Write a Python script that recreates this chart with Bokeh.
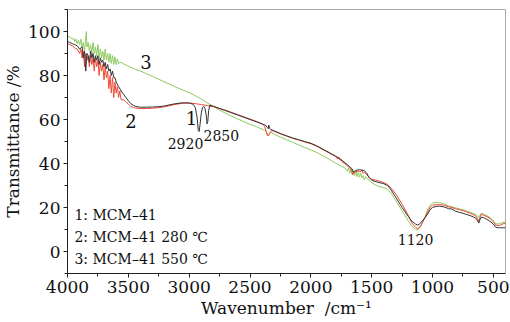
from bokeh.plotting import figure
from bokeh.models import Range1d, FixedTicker
from bokeh.core.properties import value
from bokeh.embed import file_html
from bokeh.resources import INLINE

# ---------------- data ----------------
wn1 = [4000, 3980, 3960, 3940, 3920, 3900, 3880, 3870, 3860, 3850, 3840, 3830, 3820, 3810, 3800,
       3790, 3780, 3770, 3760, 3750, 3740, 3730, 3720, 3710, 3700, 3690, 3680, 3670, 3660, 3650,
       3640, 3630, 3620, 3610, 3600, 3580, 3560, 3540, 3520, 3500, 3480, 3460, 3440, 3420, 3400,
       3350, 3300, 3250, 3200, 3150, 3100, 3050, 3000, 2970, 2950, 2935, 2925, 2918, 2910, 2900,
       2890, 2880, 2870, 2860, 2853, 2847, 2840, 2830, 2800, 2750, 2700, 2650, 2600, 2550, 2500,
       2450, 2400, 2370, 2360, 2350, 2345, 2340, 2330, 2300, 2250, 2200, 2150, 2100, 2050, 2000,
       1950, 1900, 1850, 1800, 1750, 1700, 1680, 1660, 1650, 1640, 1620, 1600, 1580, 1560, 1540,
       1520, 1500, 1480, 1450, 1400, 1370, 1340, 1300, 1250, 1200, 1170, 1140, 1120, 1100, 1080,
       1060, 1040, 1020, 1000, 970, 940, 900, 870, 840, 810, 780, 750, 720, 690, 660, 640, 630,
       620, 610, 600, 580, 560, 530, 500, 480, 460, 440, 420, 400]
t1 = [95.5, 95, 94.5, 94, 93.5, 92, 93, 88, 91, 82, 90, 89, 86, 91, 88,
      90, 86, 89, 87, 89, 85, 88, 86, 87, 84, 86, 83, 85, 82, 83,
      80, 82, 79, 79, 77, 75, 73, 71.5, 70, 68.5, 67.2, 66.5, 66, 65.7, 65.6,
      65.6, 65.7, 65.8, 66.2, 66.8, 67.3, 67.6, 67.5, 67, 65.5, 61, 55, 54.5, 58, 63,
      65.5, 66, 65, 62, 58, 59, 64, 66.5, 66, 65, 64, 63, 62, 61, 60,
      59, 58, 57.3, 56.5, 55.8, 57.5, 56, 55.5, 54.8, 53.6, 52.6, 51.6, 50.8, 50, 49.2,
      48, 46.5, 45, 43.5, 41.7, 39.5, 38.5, 37.5, 36, 36.5, 37, 37.2, 37, 36.8, 35.5,
      33.5, 32.5, 32, 31.5, 30.8, 30, 28, 24.5, 20, 16, 13.8, 12.5, 12, 12.8, 14.2,
      15.5, 17, 19, 20, 20.5, 20.6, 20.2, 19.5, 19.3, 18.3, 17.8, 17.4, 16.8, 16.3, 15.6, 15, 14,
      12.9, 14.5, 15.6, 15.4, 14.8, 13.8, 12.5, 11, 10.8, 10.8, 10.8, 10.8]

wn2 = [4000, 3980, 3960, 3940, 3920, 3900, 3890, 3880, 3870, 3860, 3850, 3840, 3830, 3820, 3810,
       3800, 3790, 3780, 3770, 3760, 3750, 3740, 3730, 3720, 3710, 3700, 3690, 3680, 3670, 3660,
       3650, 3640, 3630, 3620, 3610, 3600, 3590, 3580, 3570, 3560, 3540, 3520, 3500, 3480, 3460,
       3440, 3400, 3350, 3300, 3250, 3200, 3150, 3100, 3050, 3000, 2950, 2900, 2850, 2800, 2750,
       2700, 2650, 2600, 2550, 2500, 2450, 2400, 2380, 2370, 2360, 2350, 2340, 2330, 2320, 2300,
       2250, 2200, 2150, 2100, 2050, 2000, 1950, 1900, 1850, 1800, 1780, 1770, 1760, 1750, 1740,
       1720, 1700, 1680, 1665, 1655, 1645, 1630, 1610, 1590, 1580, 1570, 1560, 1540, 1520, 1500,
       1470, 1440, 1400, 1370, 1340, 1300, 1250, 1200, 1170, 1140, 1120, 1100, 1080, 1060, 1040,
       1020, 1000, 970, 940, 900, 870, 840, 810, 780, 750, 720, 690, 660, 640, 630, 620, 610,
       600, 580, 560, 530, 500, 480, 460, 440, 420, 400]
t2 = [94.5, 94, 93.5, 92.5, 92, 90, 92, 88, 91, 84, 90, 87, 89, 84, 89,
      85, 88, 82, 88, 84, 87, 80, 86, 82, 85, 78, 84, 79, 82, 74,
      80, 72, 79, 70, 77, 72, 75, 70, 73, 69, 69, 68, 67, 66, 65.5,
      65.2, 65, 65, 65.1, 65.4, 65.8, 66.4, 67, 67.4, 67.5, 67.2, 66.8, 66.3, 65.8, 65,
      64.2, 63.2, 62.2, 61.2, 60.2, 59.2, 58, 57, 55, 53, 52.6, 53.5, 54.5, 55, 54.6,
      53.5, 52.5, 51.5, 50.7, 49.8, 49, 47.8, 46.3, 44.8, 43.3, 42, 43, 41.5, 41.8, 40.5,
      40, 39, 38, 36.8, 35, 35.8, 36.3, 36.6, 36.2, 37, 35.5, 36, 35, 33.5, 32.8,
      32.5, 32, 31.3, 30.5, 28.8, 26, 21.5, 16.5, 13, 11, 10.4, 11.5, 13.5, 15.5, 18,
      20, 21, 21.3, 21.3, 21, 20.3, 20, 19.4, 19, 18.6, 18, 17.4, 16.6, 16, 15, 13.5, 15.5,
      16.8, 16.5, 16, 15.2, 13.5, 12, 11.8, 12, 12.6, 12.8]

wn3 = [4000, 3980, 3960, 3950, 3940, 3930, 3920, 3910, 3900, 3890, 3880, 3870, 3860, 3850, 3845,
       3840, 3830, 3820, 3810, 3800, 3790, 3780, 3770, 3760, 3750, 3740, 3730, 3720, 3710, 3700,
       3690, 3680, 3670, 3660, 3650, 3640, 3630, 3620, 3610, 3600, 3590, 3580, 3560, 3540, 3500,
       3450, 3400, 3350, 3300, 3250, 3200, 3150, 3100, 3050, 3000, 2950, 2900, 2850, 2800, 2750,
       2700, 2650, 2600, 2550, 2500, 2450, 2400, 2370, 2360, 2350, 2340, 2330, 2300, 2250, 2200,
       2150, 2100, 2050, 2000, 1950, 1900, 1850, 1800, 1750, 1720, 1700, 1690, 1680, 1670, 1660,
       1650, 1640, 1630, 1620, 1610, 1600, 1590, 1580, 1570, 1560, 1550, 1540, 1520, 1500, 1470,
       1440, 1400, 1370, 1340, 1300, 1250, 1200, 1170, 1140, 1120, 1100, 1080, 1060, 1040, 1020,
       1000, 970, 940, 900, 870, 840, 810, 780, 750, 720, 690, 660, 640, 630, 620, 610, 600,
       580, 560, 530, 500, 480, 460, 440, 420, 400]
t3 = [98, 97.5, 96.5, 97, 95.5, 96.5, 94.5, 96, 94, 96.5, 93, 95, 91, 97, 100,
      93, 95, 91, 94, 90, 95, 90, 93, 89, 94, 88, 92, 88, 91, 87,
      92, 87, 90, 86, 90, 85.5, 89, 85, 88.5, 85, 87.5, 85.5, 86, 85.3, 84.3,
      83, 82, 80.8, 79.6, 78.3, 77, 75.8, 74.5, 73.3, 72.2, 70.8, 69.3, 67.5, 66, 64.3,
      62.8, 61.5, 60.2, 59, 57.8, 56.8, 55.6, 55, 53.8, 52.5, 53.5, 54.2, 53.3, 52, 50.8,
      49.6, 48.5, 47.3, 46.2, 45, 43.5, 42, 40.3, 38.8, 38, 36.5, 38, 35.5, 37.5, 35,
      36.8, 34.5, 36.5, 34, 36, 33.8, 35.5, 33.5, 34.5, 32.5, 34, 33.2, 32.3, 31.3, 30.3,
      29.5, 29, 28.3, 26.5, 23, 18.5, 14, 11.5, 10, 9.8, 11, 13.3, 16, 19, 21,
      22, 22.3, 22.2, 21.6, 20.7, 20.4, 19.8, 19.4, 19, 18.4, 17.8, 17.3, 16.8, 16.3, 15.5, 16.5, 17.4,
      17, 16.5, 15.5, 14, 12.6, 12.5, 12.8, 13.2, 13.4]

x_ticks = [4000, 3500, 3000, 2500, 2000, 1500, 1000, 500]
y_ticks = [0, 20, 40, 60, 80, 100]

curve_labels = ["1", "2", "3"]
curve_label_x = [2981, 3478, 3356]
curve_label_y = [60.5, 59.5, 86]

peak_labels = ["2920", "2850", "1120"]
peak_x = [3030, 2736, 1139]
peak_y = [49, 52.7, 5.5]

legend_lines = ["1: MCM\u201341", "2: MCM\u201341 280 \u2103", "3: MCM\u201341 550 \u2103"]
legend_x = [3943, 3943, 3943]
legend_y = [16.8, 6.4, -3.2]

colors = ["#333333", "#ef4a36", "#8ec95e"]
FONT = "DejaVu Serif"

# ---------------- figure ----------------
p = figure(width=510, height=322, output_backend="svg", toolbar_location=None,
           x_range=Range1d(4000, 400), y_range=Range1d(-10, 110),
           min_border_left=64, min_border_right=5, min_border_top=9, min_border_bottom=49)
p.background_fill_color = "white"
p.border_fill_color = "white"
p.outline_line_color = "#aaaaaa"
p.grid.visible = False

for wn, t, c in zip([wn3, wn2, wn1], [t3, t2, t1], [colors[2], colors[1], colors[0]]):
    p.line(wn, t, line_color=c, line_width=1)

p.xaxis.ticker = FixedTicker(ticks=x_ticks, minor_ticks=[t - 250 for t in x_ticks])
p.yaxis.ticker = FixedTicker(ticks=y_ticks, minor_ticks=[t + 10 for t in y_ticks] + [-10])

for ax in (p.xaxis, p.yaxis):
    ax.major_label_text_font = FONT
    ax.major_label_text_font_size = "17px"
    ax.major_label_text_color = "#111111"
    ax.axis_label_text_font = FONT
    ax.axis_label_text_font_size = "17px"
    ax.axis_label_text_font_style = "normal"
    ax.axis_label_text_color = "#111111"
    ax.axis_line_color = "#222222"
    ax.major_tick_line_color = "#222222"
    ax.minor_tick_line_color = "#222222"
    ax.major_tick_in = 0
    ax.major_tick_out = 4
    ax.minor_tick_in = 0
    ax.minor_tick_out = 3
    ax.major_label_standoff = 3
    ax.axis_label_standoff = 2

p.xaxis.axis_label = "Wavenumber\u00a0\u00a0/cm\u207b\u00b9"
p.yaxis.axis_label = "Transmittance /%"

p.text(curve_label_x, curve_label_y, text=curve_labels, text_font=value(FONT),
       text_font_size="18px", text_align="center", text_baseline="middle", text_color="#111111")
p.text(peak_x, peak_y, text=peak_labels, text_font=value(FONT),
       text_font_size="14px", text_align="center", text_baseline="middle", text_color="#111111")
p.text(legend_x, legend_y, text=legend_lines, text_font=value(FONT),
       text_font_size="14px", text_align="left", text_baseline="middle", text_color="#111111")

open("out.html", "w").write(file_html(p, INLINE))
